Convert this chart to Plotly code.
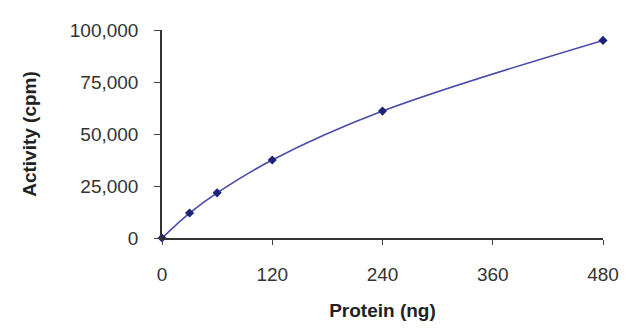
import plotly.graph_objects as go

# Protein amount (ng) vs. measured activity (cpm)
protein_ng = [0, 30, 60, 120, 240, 480]
activity_cpm = [0, 12000, 21700, 37500, 61000, 95000]

x_ticks = [0, 120, 240, 360, 480]
y_ticks = [0, 25000, 50000, 75000, 100000]
y_tick_text = ["0", "25,000", "50,000", "75,000", "100,000"]

fig = go.Figure()
fig.add_trace(go.Scatter(
    x=protein_ng,
    y=activity_cpm,
    mode="lines+markers",
    line=dict(color="#4A4AAA", width=1.6, shape="spline", smoothing=1.0),
    marker=dict(symbol="diamond", size=7, color="#1E237A"),
    cliponaxis=False,
    showlegend=False,
))

axis_font = dict(family="Liberation Sans, Arial, sans-serif", size=19, color="#333333")
title_font = dict(family="Liberation Sans, Arial, sans-serif", size=19, color="#222222")

fig.update_layout(
    width=640,
    height=335,
    margin=dict(l=162, r=37, t=30, b=97),
    paper_bgcolor="white",
    plot_bgcolor="white",
    xaxis=dict(
        range=[0, 480],
        tickvals=x_ticks,
        ticks="outside",
        ticklen=5,
        tickwidth=1.2,
        tickcolor="#444444",
        showline=True,
        linecolor="#333333",
        linewidth=1.5,
        showgrid=False,
        zeroline=False,
        tickfont=axis_font,
        ticklabelstandoff=13,
        title=dict(text="<b>Protein (ng)</b>", font=title_font, standoff=20),
    ),
    yaxis=dict(
        range=[0, 100000],
        tickvals=y_ticks,
        ticktext=y_tick_text,
        ticks="outside",
        ticklen=6,
        tickwidth=1.2,
        tickcolor="#444444",
        showline=True,
        linecolor="#333333",
        linewidth=1.5,
        showgrid=False,
        zeroline=False,
        tickfont=axis_font,
        ticklabelstandoff=12,
        title=dict(text="<b>Activity (cpm)</b>", font=title_font, standoff=28),
    ),
)

fig.write_html("out.html")
